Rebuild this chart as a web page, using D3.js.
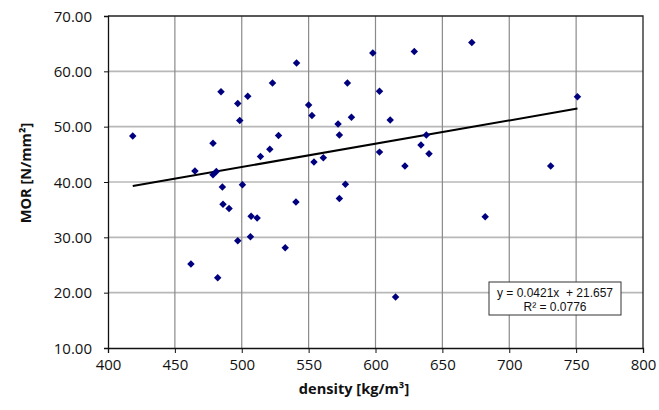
<!DOCTYPE html>
<html>
<head>
<meta charset="utf-8">
<script src="https://cdn.jsdelivr.net/npm/d3@7"></script>
<style>
body { margin: 0; background: #fff; }
.tick-label { font-family: "Open Sans", sans-serif; font-size: 15px; fill: #111; }
.axis-title { font-family: "Open Sans", sans-serif; font-size: 14.6px; font-weight: bold; fill: #111; }
.eq { font-family: "Liberation Sans", Arial, sans-serif; font-size: 12px; fill: #111; }
</style>
</head>
<body>
<script>
var w = 659;
var h = 410;

// measured points: density [kg/m3] vs MOR [N/mm2]
var density = [418.5, 541, 484.5, 523, 504.5, 497, 498.5, 478.5, 527.5, 521,
               514, 465, 478.5, 481, 485.5, 500.5, 486, 490.5, 507, 511.5,
               540.5, 497, 506.5, 532.5, 462, 482, 598, 629, 672, 579,
               603, 550, 552.5, 582, 572, 611, 573, 638, 634, 640,
               603, 554, 561, 622, 577.5, 573, 615, 751, 731, 682];
var mor = [48.3, 61.5, 56.3, 57.9, 55.5, 54.2, 51.1, 47.0, 48.4, 45.9,
           44.6, 42.0, 41.3, 41.9, 39.1, 39.5, 36.0, 35.2, 33.8, 33.5,
           36.4, 29.4, 30.1, 28.1, 25.2, 22.7, 63.3, 63.6, 65.2, 57.9,
           56.4, 53.9, 52.0, 51.7, 50.5, 51.2, 48.5, 48.5, 46.7, 45.1,
           45.4, 43.6, 44.4, 42.9, 39.6, 37.0, 19.2, 55.4, 42.9, 33.7];

var xTicks = [400, 450, 500, 550, 600, 650, 700, 750, 800];
var yTicks = [10, 20, 30, 40, 50, 60, 70];

var slope = 0.0421;
var intercept = 21.657;
var eqLines = ['y = 0.0421x  + 21.657', 'R\u00b2 = 0.0776'];

var pLeft = 108, pRight = 643, pTop = 16, pBottom = 348;

var x = d3.scaleLinear().domain([400, 800]).range([pLeft, pRight]);
var y = d3.scaleLinear().domain([10, 70]).range([pBottom, pTop]);

var svg = d3.select('body')
			.append('svg')
			.attr('width', w)
			.attr('height', h);

// gridlines
svg.selectAll('line.hgrid')
	.data(yTicks.slice(1, -1))
	.enter()
	.append('line')
	.attr('x1', pLeft).attr('x2', pRight)
	.attr('y1', function(d) { return y(d); })
	.attr('y2', function(d) { return y(d); })
	.attr('stroke', '#b8b8b8')
	.attr('stroke-width', 1.6);

svg.selectAll('line.vgrid')
	.data(xTicks.slice(1, -1))
	.enter()
	.append('line')
	.attr('x1', function(d) { return x(d); })
	.attr('x2', function(d) { return x(d); })
	.attr('y1', pTop).attr('y2', pBottom)
	.attr('stroke', '#8a8a8a')
	.attr('stroke-width', 1.2);

// frame top / right
svg.append('path')
	.attr('d', 'M' + pLeft + ',' + pTop + 'H' + pRight + 'V' + pBottom)
	.attr('fill', 'none')
	.attr('stroke', '#222')
	.attr('stroke-width', 1.3);

// axes
var xAxis = d3.axisBottom(x).tickValues(xTicks).tickSize(5).tickFormat(d3.format('d'));
var yAxis = d3.axisLeft(y).tickValues(yTicks).tickSize(4).tickFormat(d3.format('.2f'));

var gx = svg.append('g').attr('transform', 'translate(0,' + pBottom + ')').call(xAxis);
var gy = svg.append('g').attr('transform', 'translate(' + pLeft + ',0)').call(yAxis);

[gx, gy].forEach(function(g) {
	g.attr('font-family', null).attr('font-size', null);
	g.select('.domain').attr('stroke', '#111').attr('stroke-width', 1.3);
	g.selectAll('.tick line').attr('stroke', '#111');
	g.selectAll('.tick text').attr('class', 'tick-label');
});
gx.selectAll('.tick text').attr('y', 11).attr('dy', '0.71em');
gy.selectAll('.tick text').attr('x', -16).attr('dy', '0.35em');

// trend line
var xMin = d3.min(density), xMax = d3.max(density);
svg.append('line')
	.attr('x1', x(xMin)).attr('y1', y(slope * xMin + intercept))
	.attr('x2', x(xMax)).attr('y2', y(slope * xMax + intercept))
	.attr('stroke', '#000')
	.attr('stroke-width', 2);

// points: square turned 45 degrees
var diamond = d3.symbol().type(d3.symbolSquare).size(28);
svg.selectAll('path.pt')
	.data(density)
	.enter()
	.append('path')
	.attr('class', 'pt')
	.attr('d', diamond)
	.attr('transform', function(d, i) { return 'translate(' + x(d) + ',' + y(mor[i]) + ') rotate(45)'; })
	.attr('fill', '#00007f');

// equation box
svg.append('rect')
	.attr('x', 489).attr('y', 282)
	.attr('width', 132).attr('height', 33)
	.attr('fill', '#fff')
	.attr('stroke', '#333')
	.attr('stroke-width', 1);

svg.selectAll('text.eq')
	.data(eqLines)
	.enter()
	.append('text')
	.attr('class', 'eq')
	.attr('x', 555)
	.attr('y', function(d, i) { return 297 + i * 14; })
	.attr('text-anchor', 'middle')
	.style('white-space', 'pre')
	.text(function(d) { return d; });

// axis titles
svg.append('text')
	.attr('class', 'axis-title')
	.attr('x', 354).attr('y', 394)
	.attr('text-anchor', 'middle')
	.text('density [kg/m\u00b3]');

svg.append('text')
	.attr('class', 'axis-title')
	.attr('transform', 'translate(31,173) rotate(-90)')
	.attr('text-anchor', 'middle')
	.text('MOR [N/mm\u00b2]');
</script>
</body>
</html>
